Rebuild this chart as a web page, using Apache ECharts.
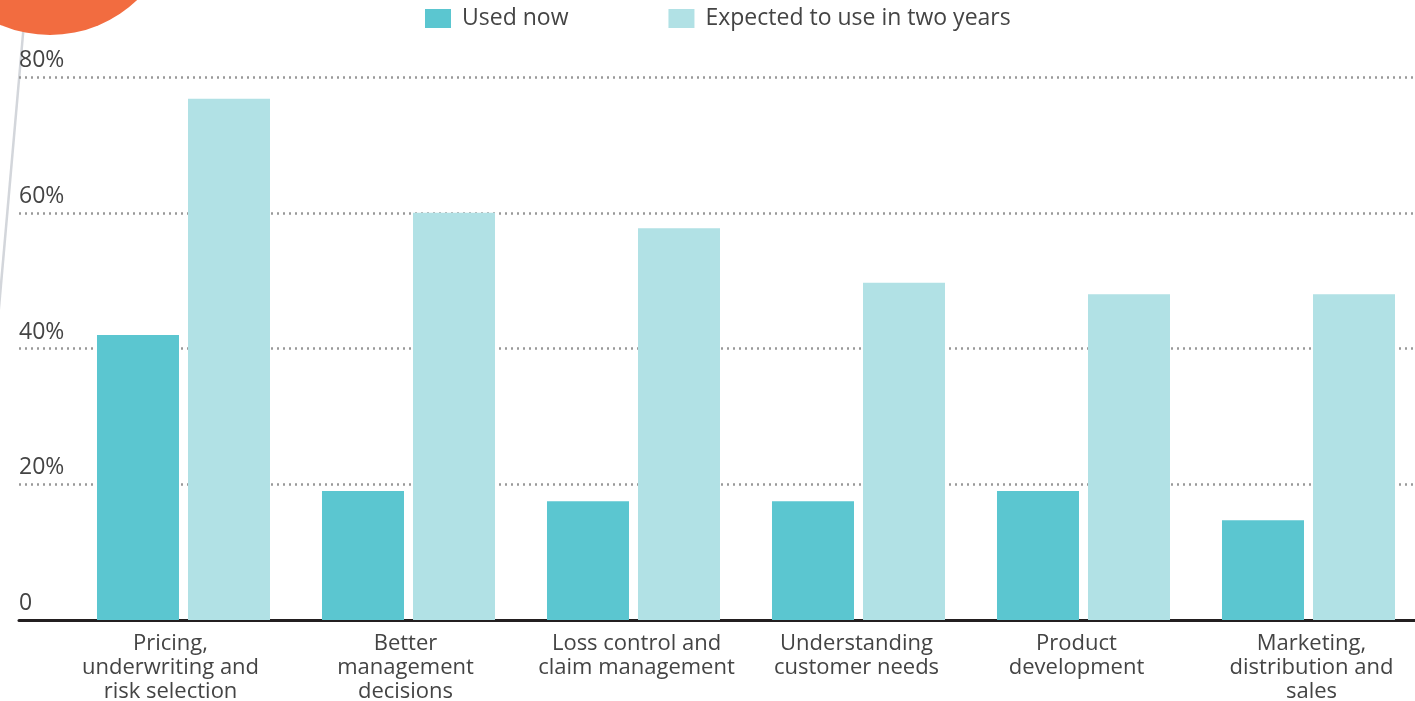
<!DOCTYPE html>
<html><head><meta charset="utf-8">
<script src="https://cdn.jsdelivr.net/npm/echarts@6/dist/echarts.min.js"></script>
<style>html,body{margin:0;padding:0;background:#fff}#c{width:1415px;height:701px}</style>
</head><body><div id="c"></div>
<script>
const categories = ["Pricing,\nunderwriting and\nrisk selection", "Better\nmanagement\ndecisions", "Loss control and\nclaim management", "Understanding\ncustomer needs", "Product\ndevelopment", "Marketing,\ndistribution and\nsales"];
const usedNow = [42, 19, 17.5, 17.5, 19, 14.7];
const expectedTwoYears = [76.8, 60, 57.7, 49.7, 48, 48];
const seriesNames = ["Used now", "Expected to use in two years"];
const yTicks = [0, 20, 40, 60, 80];

// layout only: horizontal nudge of each category label (px)
const labelShift = [-13, -3, 3, -2, -7, 3];

const FONT = "Open Sans";
const catData = categories.map((c, i) => ({
  value: c,
  textStyle: {padding: labelShift[i] < 0 ? [0, -2 * labelShift[i], 0, 0] : [0, 0, 0, 2 * labelShift[i]]}
}));
const chart = echarts.init(document.getElementById('c'));
chart.setOption({
  animation: false,
  textStyle: {fontFamily: FONT},
  graphic: [
    {type: 'line', z: 0, shape: {x1: 26, y1: 0, x2: -3, y2: 330}, style: {stroke: '#d3d6db', lineWidth: 2.5}},
    {type: 'circle', z: 10, shape: {cx: 50, cy: -91, r: 126}, style: {fill: '#f26c40'}}
  ],
  legend: {
    top: 2, left: 420,
    itemWidth: 26, itemHeight: 19, itemGap: 100,
    icon: 'rect',
    textStyle: {fontSize: 23, lineHeight: 19, color: '#444', fontFamily: FONT, padding: [0, 0, 0, 6]},
    data: seriesNames
  },
  grid: [
    {left: 19, right: 0, top: 77, bottom: 81, outerBoundsMode: 'none'},
    {left: 71, width: 1350, top: 77, bottom: 81, outerBoundsMode: 'none'}
  ],
  xAxis: [
    {type: 'value', gridIndex: 0, min: 0, max: 1, axisLine: {show: true, onZero: false, lineStyle: {color: '#231f20', width: 3}}, axisLabel: {show: false}, axisTick: {show: false}, splitLine: {show: false}},
    {type: 'category', gridIndex: 1, data: catData, axisLine: {show: false}, axisTick: {show: false},
     axisLabel: {interval: 0, fontSize: 22, lineHeight: 24, color: '#444', margin: 12, fontFamily: FONT}}
  ],
  yAxis: [
    {type: 'value', gridIndex: 0, min: 0, max: 80, interval: 20,
     axisLine: {show: false}, axisTick: {show: false},
     axisLabel: {inside: true, margin: 0, fontSize: 23, lineHeight: 23, color: '#444', verticalAlign: 'bottom', padding: [0, 0, 5, 0], fontFamily: FONT,
       formatter: v => v === 0 ? '0' : v + '%'},
     splitLine: {show: true, lineStyle: {type: [2, 4], color: '#999', width: 2.5}}},
    {type: 'value', gridIndex: 1, min: 0, max: 80, show: false, splitLine: {show: false}}
  ],
  series: [
    {name: seriesNames[0], type: 'bar', xAxisIndex: 1, yAxisIndex: 1, data: usedNow, barWidth: 82, barGap: '11%', itemStyle: {color: '#5bc6d0'}},
    {name: seriesNames[1], type: 'bar', xAxisIndex: 1, yAxisIndex: 1, data: expectedTwoYears, barWidth: 82, itemStyle: {color: '#b1e1e5'}}
  ]
});
</script></body></html>
